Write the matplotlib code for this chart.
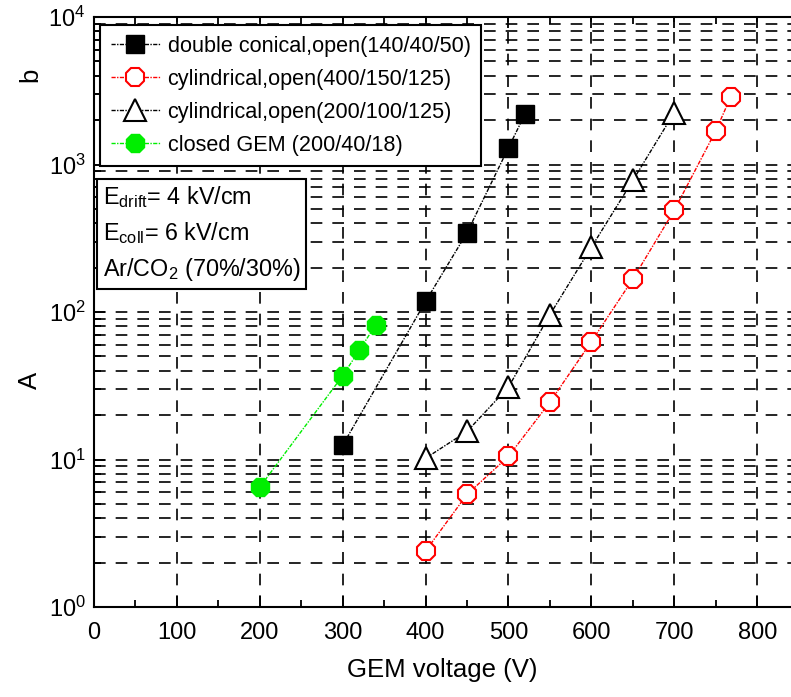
import matplotlib
matplotlib.use("Agg")
import matplotlib.pyplot as plt
from matplotlib.ticker import LogLocator, MultipleLocator, NullFormatter

plt.rcParams['font.family'] = ['Liberation Sans', 'DejaVu Sans']
plt.rcParams['mathtext.fontset'] = 'custom'
plt.rcParams['mathtext.rm'] = 'Liberation Sans'
plt.rcParams['mathtext.it'] = 'Liberation Sans:italic'
plt.rcParams['mathtext.bf'] = 'Liberation Sans:bold'

# Data
dc_x = [300, 400, 450, 500, 520]
dc_y = [12.5, 118, 345, 1300, 2200]
cyl1_x = [400, 450, 500, 550, 600, 650, 700, 750, 768]
cyl1_y = [2.4, 5.8, 10.5, 24.5, 63, 167, 490, 1690, 2870]
cyl2_x = [400, 450, 500, 550, 600, 650, 700]
cyl2_y = [10.2, 15.5, 31, 96, 275, 780, 2250]
gem_x = [200, 300, 320, 340]
gem_y = [6.5, 37, 55, 82]

labels = ["double conical,open(140/40/50)",
          "cylindrical,open(400/150/125)",
          "cylindrical,open(200/100/125)",
          "closed GEM (200/40/18)"]

fig = plt.figure(figsize=(7.91, 6.97), dpi=100)
ax = fig.add_axes([94/791, 90/697, 1 - 94/791, 590/697])

ls = (0, (3, 1, 1, 1))
ax.plot(dc_x, dc_y, color='black', ls=ls, lw=1, marker='s', ms=13,
        mfc='black', mec='black', label=labels[0], zorder=3)
ax.plot(cyl1_x, cyl1_y, color='red', ls=ls, lw=1, marker='8', ms=14.5,
        mfc='white', mec='red', mew=1.5, label=labels[1], zorder=3)
ax.plot(cyl2_x, cyl2_y, color='black', ls=ls, lw=1, marker='^', ms=15.5,
        mfc='white', mec='black', mew=1.5, label=labels[2], zorder=3)
ax.plot(gem_x, gem_y, color='#00ee00', ls=ls, lw=1, marker='8', ms=14.5,
        mfc='#00ee00', mec='#00ee00', label=labels[3], zorder=3)

ax.set_yscale('log')
ax.set_ylim(1, 1e4)
ax.set_xlim(0, (791 - 94) / 0.829)
ax.xaxis.set_major_locator(MultipleLocator(100))
ax.xaxis.set_minor_locator(MultipleLocator(50))
ax.yaxis.set_major_locator(LogLocator(base=10, numticks=10))
ax.yaxis.set_minor_locator(LogLocator(base=10, subs=range(2, 10), numticks=20))
ax.yaxis.set_minor_formatter(NullFormatter())

grid_kw = dict(color='black', ls=(0, (7, 6)), lw=1.2)
ax.grid(True, which='major', axis='x', **grid_kw)
ax.grid(True, which='both', axis='y', **grid_kw)
ax.set_axisbelow(True)

ax.spines['right'].set_visible(False)
for s in ['left', 'bottom', 'top']:
    ax.spines[s].set_linewidth(1.5)
ax.tick_params(which='both', direction='in', top=True, right=False, width=1.3,
               labelsize=17)
ax.tick_params(which='major', length=8)
ax.tick_params(which='minor', length=5)
ax.tick_params(axis='x', pad=11)
ax.tick_params(axis='y', pad=6)

ax.set_xlabel("GEM voltage (V)", fontsize=18.5, labelpad=10)
fig.text(30/791, 1 - 380/697, "A", fontsize=18.5, rotation=90, ha='center', va='center')
fig.text(30/791, 1 - 75/697, "b", fontsize=18.5, rotation=90, ha='center', va='center')

leg = ax.legend(loc='upper left', bbox_to_anchor=(6/697, 1 - 8/590), fontsize=15.6,
                handlelength=2.25, labelspacing=0.55, borderpad=0.5,
                handletextpad=0.37, fancybox=False, framealpha=1,
                edgecolor='black', borderaxespad=0)
leg.get_frame().set_linewidth(1.5)

ax.text(9/697, 1 - 167/590,
        "E$_{\\mathrm{drift}}$= 4 kV/cm\nE$_{\\mathrm{coll}}$= 6 kV/cm\nAr/CO$_{2}$ (70%/30%)",
        transform=ax.transAxes, fontsize=16.8, va='top', ha='left',
        linespacing=1.5,
        bbox=dict(boxstyle='square,pad=0.25', fc='white', ec='black', lw=1.5),
        zorder=5)

fig.savefig("out.png", dpi=100)
